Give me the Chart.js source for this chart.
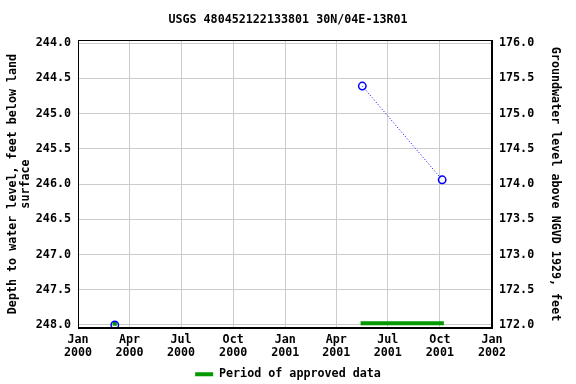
<!DOCTYPE html>
<html>
<head>
<meta charset="utf-8">
<script src="https://cdn.jsdelivr.net/npm/chart.js@4/dist/chart.umd.min.js"></script>
<style>
html,body{margin:0;padding:0;background:#fff;}
#wrap{width:576px;height:384px;}
</style>
</head>
<body>
<div id="wrap"><canvas id="c" width="576" height="384"></canvas></div>
<script>
// ---- data ----
const titleText = "USGS 480452122133801 30N/04E-13R01";
const measureDates = ["2000-03-06", "2001-05-17", "2001-10-05"];
const depthValues = [248.0, 244.61, 245.94];
const approvedPointDates = ["2000-03-06"];
const approvedPointValues = [247.98];
const approvedPeriodDates = ["2001-05-14", "2001-10-08"];
const approvedPeriodValues = [247.975, 247.975];
const xTickDates = ["2000-01-01","2000-04-01","2000-07-01","2000-10-01","2001-01-01","2001-04-01","2001-07-01","2001-10-01","2002-01-01"];
const xTickLabels = [["Jan","2000"],["Apr","2000"],["Jul","2000"],["Oct","2000"],["Jan","2001"],["Apr","2001"],["Jul","2001"],["Oct","2001"],["Jan","2002"]];
const depthTicks = [244.0, 244.5, 245.0, 245.5, 246.0, 246.5, 247.0, 247.5, 248.0];
const elevTicks = [172.0, 172.5, 173.0, 173.5, 174.0, 174.5, 175.0, 175.5, 176.0];
const landSurfaceElev = 420.0; // elevation = 420 - depth

const toMs = s => { const [y,m,d] = s.split("-").map(Number); return Date.UTC(y, m-1, d); };
const xTickValues = xTickDates.map(toMs);
const DAY = 86400000;

const FONT = "'DejaVu Sans Mono', 'Liberation Mono', monospace";
const BLUE = "#0000ff";
const GREEN = "#009900";

const boxPlugin = {
  id: 'boxPlugin',
  afterDraw(chart) {
    const a = chart.chartArea, ctx = chart.ctx;
    ctx.save();
    ctx.strokeStyle = '#000';
    ctx.lineWidth = 1;
    ctx.strokeRect(Math.round(a.left) + 0.5, Math.round(a.top) + 0.5, Math.round(a.right - a.left) - 1, Math.round(a.bottom - a.top) - 1);
    ctx.restore();
  }
};

new Chart(document.getElementById('c'), {
  type: 'line',
  data: {
    datasets: [
      {
        label: 'Depth to water level',
        data: measureDates.map((d, i) => ({x: toMs(d), y: depthValues[i]})),
        yAxisID: 'y',
        borderColor: BLUE,
        borderWidth: 1,
        borderDash: [1, 2],
        pointStyle: 'circle',
        pointRadius: 3.7,
        pointBorderWidth: 1.5,
        pointBorderColor: BLUE,
        pointBackgroundColor: 'rgba(0,0,0,0)',
        fill: false,
        segment: {
          borderColor: c => (c.p1.parsed.x - c.p0.parsed.x > 365 * DAY) ? 'rgba(0,0,0,0)' : BLUE
        }
      },
      {
        label: 'Approved point',
        data: approvedPointDates.map((d, i) => ({x: toMs(d), y: approvedPointValues[i]})),
        yAxisID: 'y',
        showLine: false,
        pointStyle: 'rect',
        pointRadius: 3,
        pointBorderWidth: 0,
        pointBackgroundColor: GREEN,
        pointBorderColor: GREEN
      },
      {
        label: 'Period of approved data',
        data: approvedPeriodDates.map((d, i) => ({x: toMs(d), y: approvedPeriodValues[i]})),
        yAxisID: 'y',
        borderColor: GREEN,
        backgroundColor: GREEN,
        borderWidth: 4,
        pointRadius: 0,
        fill: false
      },
      {
        label: 'elev',
        data: measureDates.map((d, i) => ({x: toMs(d), y: landSurfaceElev - depthValues[i]})),
        yAxisID: 'y2',
        showLine: false,
        pointRadius: 0,
        borderColor: 'rgba(0,0,0,0)'
      }
    ]
  },
  options: {
    responsive: false,
    animation: false,
    devicePixelRatio: 1,
    layout: { padding: { left: 0, right: 0, top: 0, bottom: -6 } },
    plugins: {
      title: {
        display: true,
        text: titleText,
        color: '#000',
        font: { family: FONT, size: 11.7, weight: 'bold', lineHeight: 1.2 },
        padding: { top: 12.8, bottom: 13.2 }
      },
      legend: {
        display: true,
        position: 'bottom',
        labels: {
          color: '#000',
          font: { family: FONT, size: 11.7, weight: 'bold' },
          boxWidth: 18,
          boxHeight: 4,
          padding: 10,
          generateLabels: chart => [{
            text: 'Period of approved data',
            fillStyle: GREEN,
            strokeStyle: GREEN,
            lineWidth: 0,
            datasetIndex: 2
          }]
        }
      },
      tooltip: { enabled: false }
    },
    scales: {
      x: {
        type: 'linear',
        min: toMs("2000-01-01"),
        max: toMs("2002-01-01"),
        afterBuildTicks: s => { s.ticks = xTickValues.map(v => ({value: v})); },
        afterFit: s => { s.height = 30.3; },
        ticks: {
          autoSkip: false,
          maxRotation: 0,
          color: '#000',
          padding: 6,
          font: { family: FONT, size: 11.7, weight: 'bold', lineHeight: 1.1 },
          callback: (v) => { const i = xTickValues.indexOf(v); return i >= 0 ? xTickLabels[i] : ''; }
        },
        grid: { color: '#cccccc', lineWidth: 1, drawTicks: false, tickLength: 0 },
        border: { color: '#000', width: 1 }
      },
      y: {
        type: 'linear',
        position: 'left',
        reverse: true,
        min: 243.957,
        max: 248.043,
        afterBuildTicks: s => { s.ticks = depthTicks.map(v => ({value: v})); },
        afterFit: s => { s.width = 78; },
        ticks: {
          color: '#000',
          padding: 7,
          font: { family: FONT, size: 11.7, weight: 'bold' },
          callback: v => Number(v).toFixed(1)
        },
        grid: { color: '#cccccc', lineWidth: 1, drawTicks: false, tickLength: 0 },
        border: { color: '#000', width: 1 },
        title: {
          display: true,
          text: ['Depth to water level, feet below land', 'surface'],
          color: '#000',
          font: { family: FONT, size: 11.7, weight: 'bold', lineHeight: 1.1 },
          padding: { top: 6.5, bottom: 0 }
        }
      },
      y2: {
        type: 'linear',
        position: 'right',
        min: 171.957,
        max: 176.043,
        afterBuildTicks: s => { s.ticks = elevTicks.map(v => ({value: v})); },
        afterFit: s => { s.width = 84; },
        ticks: {
          color: '#000',
          padding: 7,
          font: { family: FONT, size: 11.7, weight: 'bold' },
          callback: v => Number(v).toFixed(1)
        },
        grid: { display: false, drawTicks: false },
        border: { color: '#000', width: 1 },
        title: {
          display: true,
          text: 'Groundwater level above NGVD 1929, feet',
          color: '#000',
          font: { family: FONT, size: 11.7, weight: 'bold', lineHeight: 1.1 },
          padding: { top: 14.5, bottom: 0 }
        }
      }
    }
  },
  plugins: [boxPlugin]
});
</script>
</body>
</html>
